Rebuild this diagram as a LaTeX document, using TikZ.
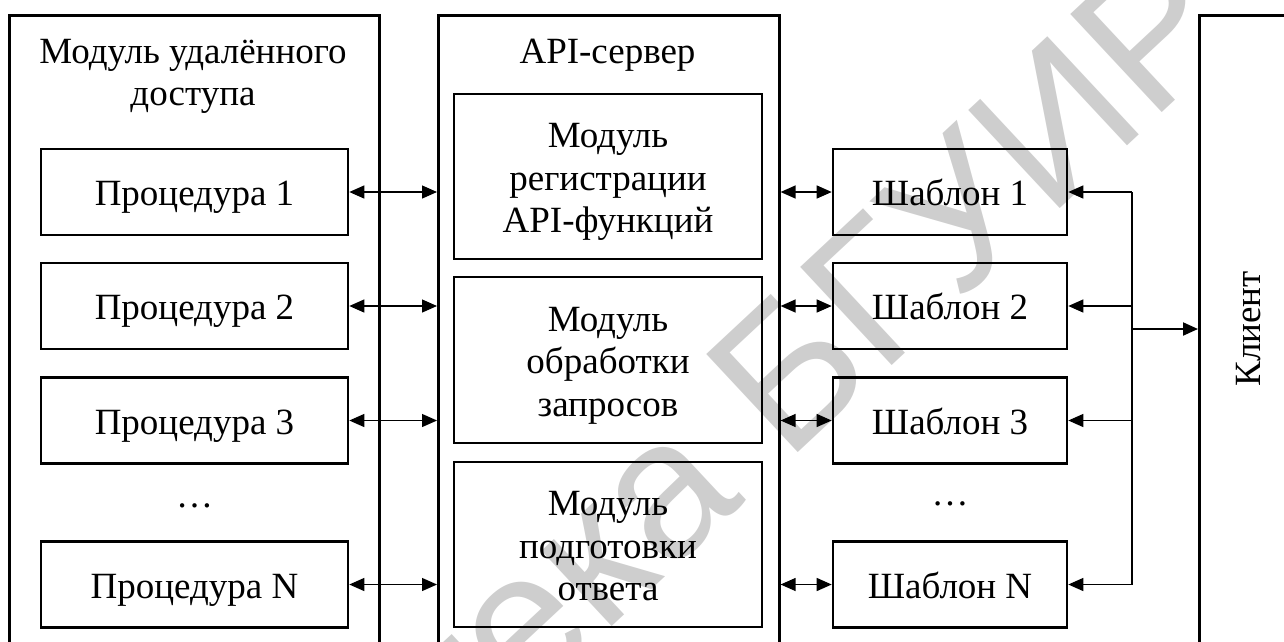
\documentclass[tikz,border=0pt]{standalone}
\usepackage{fontspec}
\setmainfont{Liberation Serif}
\newfontfamily\wmfont{Liberation Sans}
\usetikzlibrary{arrows.meta,calc}
\definecolor{wmgray}{RGB}{206,206,206}
% centred stack of lines, rows spaced by the baselineskip
\newcommand\stacktext[1]{\begin{tabular}{@{}c@{}}#1\end{tabular}}
% same, with extra room on top so the lines sit a little lower in a box
\newcommand\boxtext[1]{\stacktext{\rule{0pt}{39.75pt}#1}}
\begin{document}
\begin{tikzpicture}[x=1pt,y=-1pt,
  txt/.style={font=\fontsize{37}{42.5}\selectfont, inner sep=0pt},
  box/.style={txt, draw, line width=2.6pt},
  outer/.style={box, anchor=north west, minimum height=700pt},
  proc/.style={box, minimum width=307pt, minimum height=86pt},
  tmpl/.style={box, minimum width=234pt, minimum height=86pt},
  modbox/.style={box, minimum width=308pt},
  link/.style={line width=1.3pt, {Triangle[length=15pt,width=13pt]}-{Triangle[length=15pt,width=13pt]}},
  feed/.style={line width=1.3pt, -{Triangle[length=15pt,width=13pt]}},
  bus/.style={line width=1.3pt}]
\useasboundingbox (0,0) rectangle (1284,641);
\clip (0,0) rectangle (1284,641);

% library stamp behind the scheme
\node[font=\wmfont\fontsize{195}{195}\selectfont, text=wmgray, inner sep=0pt,
      rotate=43, anchor=base east] (stamp) at (1246,35) {Библиотека БГУИР};

% outer blocks
\node[outer, minimum width=370pt] (remote) at (8,14) {};
\node[outer, minimum width=341pt] (api) at (437,14) {};
\node[outer, minimum width=150pt] (client) at (1198,14) {};

\node[txt, anchor=north] (remotetitle) at (193,33.25) {\stacktext{Модуль удалённого\\доступа}};
\node[txt, anchor=north] (apititle) at (607.5,33.25) {\stacktext{API-сервер}};
\node[txt, rotate=90, text height=25pt, text depth=0pt] (clientlabel) at (1247.5,329) {Клиент};

% procedures
\node[proc] (p1) at (194.5,192) {\boxtext{Процедура 1}};
\node[proc] (p2) at (194.5,306) {\boxtext{Процедура 2}};
\node[proc] (p3) at (194.5,420.5) {\boxtext{Процедура 3}};
\node[txt, anchor=base] (pdots) at (194.5,507) {…};
\node[proc] (pn) at (194.5,584.5) {\boxtext{Процедура N}};

% API server modules
\node[modbox, minimum height=165pt] (reg) at (608,176.5) {\boxtext{Модуль\\регистрации\\API-функций}};
\node[modbox, minimum height=166pt] (req) at (608,360) {\boxtext{Модуль\\обработки\\запросов}};
\node[modbox, minimum height=165pt] (resp) at (608,544.5) {\boxtext{Модуль\\подготовки\\ответа}};

% templates
\node[tmpl] (t1) at (950,192) {\boxtext{Шаблон 1}};
\node[tmpl] (t2) at (950,306) {\boxtext{Шаблон 2}};
\node[tmpl] (t3) at (950,420.5) {\boxtext{Шаблон 3}};
\node[txt, anchor=base] (tdots) at (950,505) {…};
\node[tmpl] (tn) at (950,584.5) {\boxtext{Шаблон N}};

% procedures <-> API server
\foreach \n in {p1,p2,p3,pn}
  \draw[link] (\n.east) -- (api.west |- \n.east);

% API server <-> templates
\foreach \n in {t1,t2,t3,tn}
  \draw[link] (api.east |- \n.west) -- (\n.west);

% client bus
\coordinate (busx) at (1132,0);
\coordinate (join) at (1132,329);
\draw[bus] (busx |- t1.east) -- (busx |- tn.east);
\foreach \n in {t1,t2,t3,tn}
  \draw[feed] (busx |- \n.east) -- (\n.east);
\draw[feed, line width=2pt] (join) -- (client.west |- join);
\end{tikzpicture}
\end{document}
